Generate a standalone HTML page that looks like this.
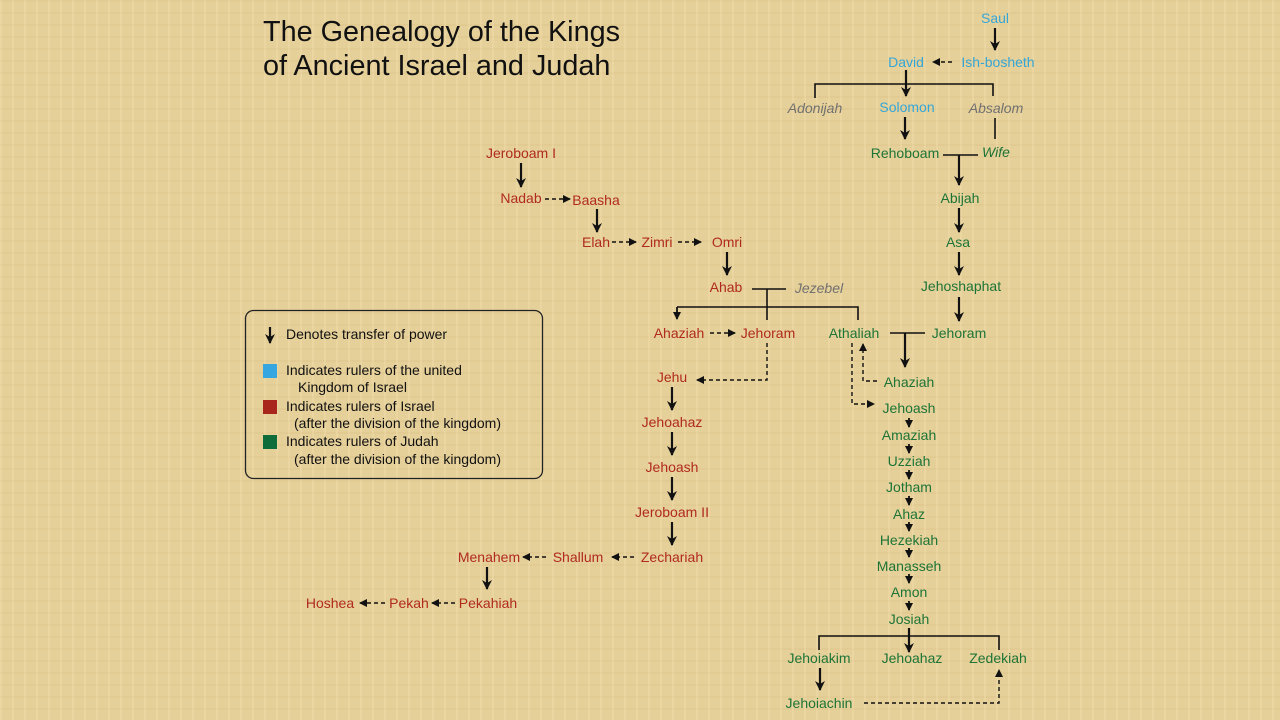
<!DOCTYPE html>
<html><head><meta charset="utf-8"><style>
html,body{margin:0;padding:0;width:1280px;height:720px;overflow:hidden;background:#e8d39f;}
svg{display:block}
text{font-family:"Liberation Sans",sans-serif;font-size:14px;}
.b{fill:#35a6d6}.r{fill:#b02a1e}.g{fill:#1d7436}.y{fill:#707070;font-style:italic}
.m text{text-anchor:middle}
</style></head><body>
<svg width="1280" height="720" viewBox="0 0 1280 720" xmlns="http://www.w3.org/2000/svg">
<defs>
<pattern id="p" width="12" height="12" patternUnits="userSpaceOnUse">
<rect width="12" height="12" fill="#e6d09a"/>
<rect x="0" y="0" width="12" height="2" fill="#dcc58b" opacity="0.5"/>
<rect x="0" y="0" width="2" height="12" fill="#efdaa8" opacity="0.5"/>
</pattern>
<marker id="h" markerWidth="10" markerHeight="10" refX="9" refY="5" orient="auto" markerUnits="userSpaceOnUse"><path d="M0,0 L10,5 L0,10 L3,5 z" fill="#111"/></marker>
<marker id="s" markerWidth="8" markerHeight="8" refX="7" refY="4" orient="auto" markerUnits="userSpaceOnUse"><path d="M0,0 L8,4 L0,8 z" fill="#111"/></marker>
</defs>
<rect width="1280" height="720" fill="url(#p)"/>
<text x="263" y="41" style="font-size:28.8px" fill="#111">The Genealogy of the Kings</text>
<text x="263" y="75" style="font-size:28.8px" fill="#111">of Ancient Israel and Judah</text>

<g stroke="#111" stroke-width="2.2" fill="none" marker-end="url(#h)">
<path d="M995 28V50"/><path d="M906 70V96"/><path d="M905 117V139"/><path d="M959 155V185"/>
<path d="M959 208V232"/><path d="M959 252V275"/><path d="M959 297V321"/>
<path d="M521 163V187"/><path d="M597 209V232"/><path d="M727 252V275"/>
<path d="M905 333V367"/><path d="M672 387V410"/><path d="M672 432V455"/><path d="M672 477V500"/><path d="M672 522V545"/>
<path d="M487 567V589"/><path d="M909 628V652"/><path d="M820 668V690"/><path d="M270 327V343"/>
</g>
<g stroke="#111" stroke-width="1.8" fill="none" marker-end="url(#s)">
<path d="M909 418V427"/><path d="M909 444V453"/><path d="M909 470V479"/><path d="M909 496V505"/><path d="M909 522V531"/><path d="M909 548V557"/><path d="M909 574V583"/><path d="M909 601V610"/>
<path d="M677 307V319"/>
</g>
<g stroke="#111" stroke-width="1.6" fill="none">
<path d="M815 98V84H993V96"/><path d="M995 118V139"/><path d="M943 155H978"/>
<path d="M752 289H786"/><path d="M767 289V320"/><path d="M677 307H858V320"/>
<path d="M890 333H925"/><path d="M819 650V636H999V650"/>
</g>
<g stroke="#111" stroke-width="1.4" fill="none" stroke-dasharray="4,3" marker-end="url(#s)">
<path d="M952 62H933"/><path d="M545 199H570"/><path d="M612 242H636"/><path d="M678 242H701"/>
<path d="M710 333H735"/><path d="M767 343V380H697"/><path d="M877 381H863V344"/><path d="M852 343V404H874"/>
<path d="M634 557H612"/><path d="M546 557H523"/><path d="M455 603H432"/><path d="M385 603H360"/>
<path d="M864 703H999V670"/>
</g>

<g class="m">
<text x="995" y="23" class="b">Saul</text>
<text x="906" y="67" class="b">David</text><text x="998" y="67" class="b">Ish-bosheth</text>
<text x="815" y="113" class="y">Adonijah</text><text x="907" y="112" class="b">Solomon</text><text x="996" y="113" class="y">Absalom</text>
<text x="905" y="158" class="g">Rehoboam</text><text x="996" y="157" class="g" style="font-style:italic">Wife</text>
<text x="521" y="158" class="r">Jeroboam I</text>
<text x="521" y="203" class="r">Nadab</text><text x="596" y="205" class="r">Baasha</text>
<text x="596" y="247" class="r">Elah</text><text x="657" y="247" class="r">Zimri</text><text x="727" y="247" class="r">Omri</text>
<text x="726" y="292" class="r">Ahab</text><text x="819" y="293" class="y">Jezebel</text>
<text x="679" y="338" class="r">Ahaziah</text><text x="768" y="338" class="r">Jehoram</text>
<text x="854" y="338" class="g">Athaliah</text><text x="959" y="338" class="g">Jehoram</text>
<text x="960" y="203" class="g">Abijah</text><text x="958" y="247" class="g">Asa</text><text x="961" y="291" class="g">Jehoshaphat</text>
<text x="672" y="382" class="r">Jehu</text><text x="909" y="387" class="g">Ahaziah</text>
<text x="909" y="413" class="g">Jehoash</text><text x="909" y="440" class="g">Amaziah</text><text x="909" y="466" class="g">Uzziah</text>
<text x="909" y="492" class="g">Jotham</text><text x="909" y="519" class="g">Ahaz</text><text x="909" y="545" class="g">Hezekiah</text>
<text x="909" y="571" class="g">Manasseh</text><text x="909" y="597" class="g">Amon</text><text x="909" y="624" class="g">Josiah</text>
<text x="672" y="427" class="r">Jehoahaz</text><text x="672" y="472" class="r">Jehoash</text><text x="672" y="517" class="r">Jeroboam II</text>
<text x="672" y="562" class="r">Zechariah</text><text x="578" y="562" class="r">Shallum</text><text x="489" y="562" class="r">Menahem</text>
<text x="330" y="608" class="r">Hoshea</text><text x="409" y="608" class="r">Pekah</text><text x="488" y="608" class="r">Pekahiah</text>
<text x="819" y="663" class="g">Jehoiakim</text><text x="912" y="663" class="g">Jehoahaz</text><text x="998" y="663" class="g">Zedekiah</text>
<text x="819" y="708" class="g">Jehoiachin</text>
</g>

<rect x="245.5" y="310.5" width="297" height="168" rx="8" fill="none" stroke="#222" stroke-width="1.3"/>
<g fill="#111">
<text x="286" y="339">Denotes transfer of power</text>
<rect x="263" y="364" width="14" height="14" fill="#35a6e0"/>
<text x="286" y="375">Indicates rulers of the united</text>
<text x="298" y="392">Kingdom of Israel</text>
<rect x="263" y="400" width="14" height="14" fill="#a8261c"/>
<text x="286" y="411">Indicates rulers of Israel</text>
<text x="294" y="428">(after the division of the kingdom)</text>
<rect x="263" y="435" width="14" height="14" fill="#0e6b3a"/>
<text x="286" y="446">Indicates rulers of Judah</text>
<text x="294" y="464">(after the division of the kingdom)</text>
</g>
</svg>
</body></html>
